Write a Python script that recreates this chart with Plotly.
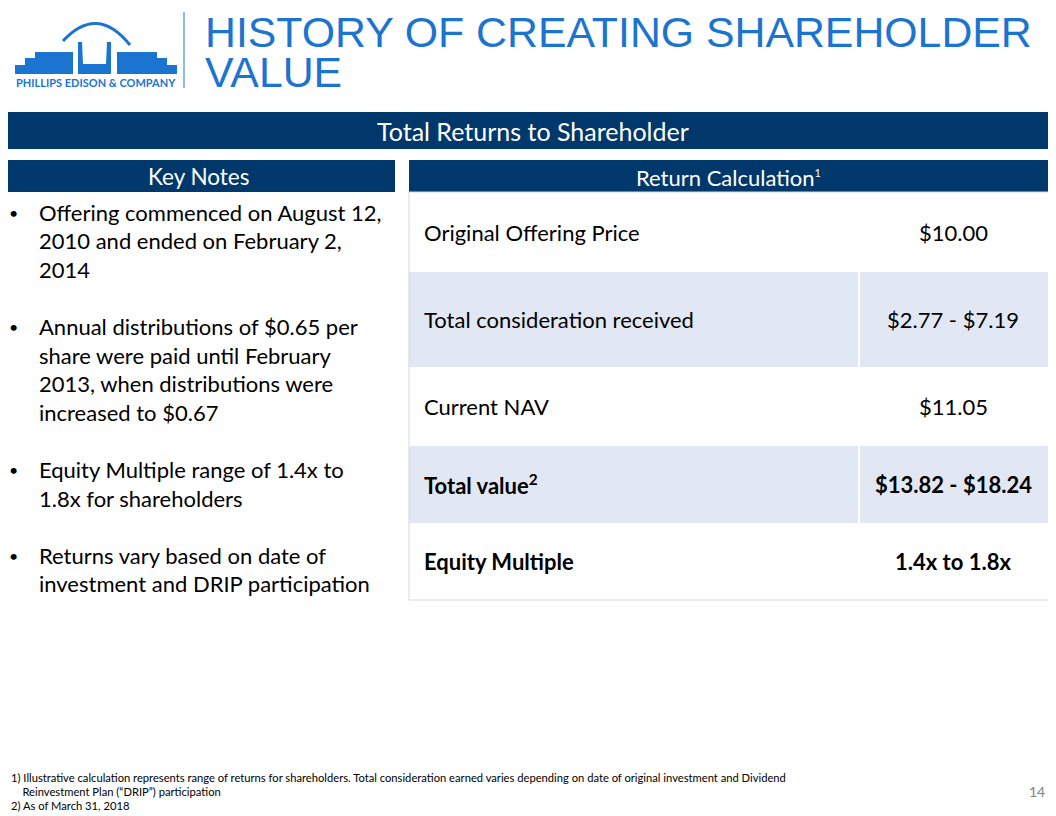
import plotly.graph_objects as go

# ---------------- data ----------------
title_lines = ["HISTORY OF CREATING SHAREHOLDER", "VALUE"]
company_name = "PHILLIPS EDISON & COMPANY"
band_title = "Total Returns to Shareholder"
notes_header = "Key Notes"
table_header = "Return Calculation<sup><span style='font-size:11px'>1</span></sup>"

row_labels = ["Original Offering Price", "Total consideration received", "Current NAV",
              "Total value<sup>2</sup>", "Equity Multiple"]
row_values = ["$10.00", "$2.77 - $7.19", "$11.05", "$13.82 - $18.24", "1.4x to 1.8x"]
row_bold = [False, False, False, True, True]
row_shaded = [False, True, False, True, False]

key_notes = [
    ["Offering commenced on August 12,", "2010 and ended on February 2,", "2014"],
    ["Annual distributions of $0.65 per", "share were paid until February",
     "2013, when distributions were", "increased to $0.67"],
    ["Equity Multiple range of 1.4x to", "1.8x for shareholders"],
    ["Returns vary based on date of", "investment and DRIP participation"],
]

footnotes = [
    "1) Illustrative calculation represents range of returns for shareholders. Total consideration earned varies depending on date of original investment and Dividend",
    "    Reinvestment Plan (\u201cDRIP\u201d) participation",
    "2) As of March 31, 2018",
]
page_number = "14"

# ---------------- style / layout ----------------
W, H = 1056, 816
OFF = 8  # page body margin
NAVY = "#00386B"
BLUE = "#1B74CF"
SHADE = "#E1E7F3"
FONT = "Lato"

row_bounds = [192, 272, 367, 446, 523, 600]
tbl_x0, tbl_x1, col_div = 409, 1052, 859

fig = go.Figure()
shapes = []
ann = []

# logo
logo_paths = [
    "M 15,74 L 15,65 L 25,65 L 25,58 L 35,58 L 35,52 L 73,52 L 73,74 Z",
    "M 78,42 L 82,42 L 83,64 L 106,64 L 107,42 L 111,42 L 111,74 L 78,74 Z",
    "M 117,74 L 117,52 L 157,52 L 157,58 L 167,58 L 167,65 L 177,65 L 177,74 Z",
]
for p in logo_paths:
    shapes.append(dict(type="path", path=p, xref="x", yref="y", fillcolor=BLUE,
                       line=dict(width=0)))
shapes.append(dict(type="path", path="M 63,41 Q 97,4 130,45", xref="x", yref="y",
                   line=dict(color=BLUE, width=3)))
ann.append(dict(x=96, y=82, text="<b>" + company_name + "</b>", showarrow=False,
                xanchor="center", yanchor="middle",
                font=dict(family=FONT, size=11, color=BLUE)))
shapes.append(dict(type="line", x0=184, x1=184, y0=12, y1=88, xref="x", yref="y",
                   line=dict(color=BLUE, width=1)))

# title
for i, t in enumerate(title_lines):
    ann.append(dict(x=203, y=32 + i * 40, text=t, showarrow=False, xanchor="left",
                    yanchor="middle",
                    font=dict(family="Liberation Sans", size=42.8, color=BLUE)))

# band
shapes.append(dict(type="rect", x0=1, x1=1056, y0=112, y1=149, xref="x", yref="y",
                   fillcolor=NAVY, line=dict(width=0)))
ann.append(dict(x=533, y=131, text=band_title, showarrow=False, xanchor="center",
                yanchor="middle", font=dict(family=FONT, size=25, color="white")))

# section headers
shapes.append(dict(type="rect", x0=1, x1=395, y0=160, y1=192, xref="x", yref="y",
                   fillcolor=NAVY, line=dict(width=0)))
ann.append(dict(x=198, y=176, text=notes_header, showarrow=False, xanchor="center",
                yanchor="middle", font=dict(family=FONT, size=22.5, color="white")))
shapes.append(dict(type="rect", x0=tbl_x0, x1=tbl_x1, y0=160, y1=192, xref="x",
                   yref="y", fillcolor=NAVY, line=dict(width=0)))
ann.append(dict(x=728, y=177, text=table_header, showarrow=False, xanchor="center",
                yanchor="middle", font=dict(family=FONT, size=22, color="white")))

# table rows
for i, (lab, val) in enumerate(zip(row_labels, row_values)):
    y0, y1 = row_bounds[i], row_bounds[i + 1]
    if row_shaded[i]:
        shapes.append(dict(type="rect", x0=tbl_x0, x1=tbl_x1, y0=y0, y1=y1, xref="x",
                           yref="y", fillcolor=SHADE, line=dict(width=0), layer="below"))
        shapes.append(dict(type="line", x0=col_div, x1=col_div, y0=y0, y1=y1, xref="x",
                           yref="y", line=dict(color="white", width=2)))
    ym = (y0 + y1) / 2
    lt = "<b>" + lab + "</b>" if row_bold[i] else lab
    vt = "<b>" + val + "</b>" if row_bold[i] else val
    ann.append(dict(x=422, y=ym, text=lt, showarrow=False, xanchor="left",
                    yanchor="middle", font=dict(family=FONT, size=22, color="black")))
    ann.append(dict(x=953, y=ym, text=vt, showarrow=False, xanchor="center",
                    yanchor="middle", font=dict(family=FONT, size=22, color="black")))
shapes.append(dict(type="rect", x0=tbl_x0, x1=tbl_x1, y0=row_bounds[0], y1=row_bounds[-1],
                   xref="x", yref="y", line=dict(color="#D5D8DC", width=1)))

# key notes
k = 0
for para in key_notes:
    for j, line in enumerate(para):
        y = 212 + k * 28.6
        if j == 0:
            ann.append(dict(x=13, y=y, text="\u2022", showarrow=False, xanchor="center",
                            yanchor="middle",
                            font=dict(family=FONT, size=16, color="black")))
        ann.append(dict(x=37, y=y, text=line, showarrow=False, xanchor="left",
                        yanchor="middle", font=dict(family=FONT, size=22, color="black")))
        k += 1
    k += 1

# footnotes
for i, f in enumerate(footnotes):
    ann.append(dict(x=9, y=777 + i * 14, text=f, showarrow=False, xanchor="left",
                    yanchor="middle", font=dict(family=FONT, size=11.2, color="black")))
ann.append(dict(x=1037, y=791, text=page_number, showarrow=False, xanchor="center",
                yanchor="middle", font=dict(family=FONT, size=14, color="#808080")))

fig.update_layout(
    width=W - OFF, height=H - OFF, margin=dict(l=0, r=0, t=0, b=0),
    paper_bgcolor="white", plot_bgcolor="white",
    xaxis=dict(range=[OFF, W], visible=False, fixedrange=True),
    yaxis=dict(range=[H, OFF], visible=False, fixedrange=True),
    shapes=shapes, annotations=ann, showlegend=False,
)
fig.write_html("out.html")
